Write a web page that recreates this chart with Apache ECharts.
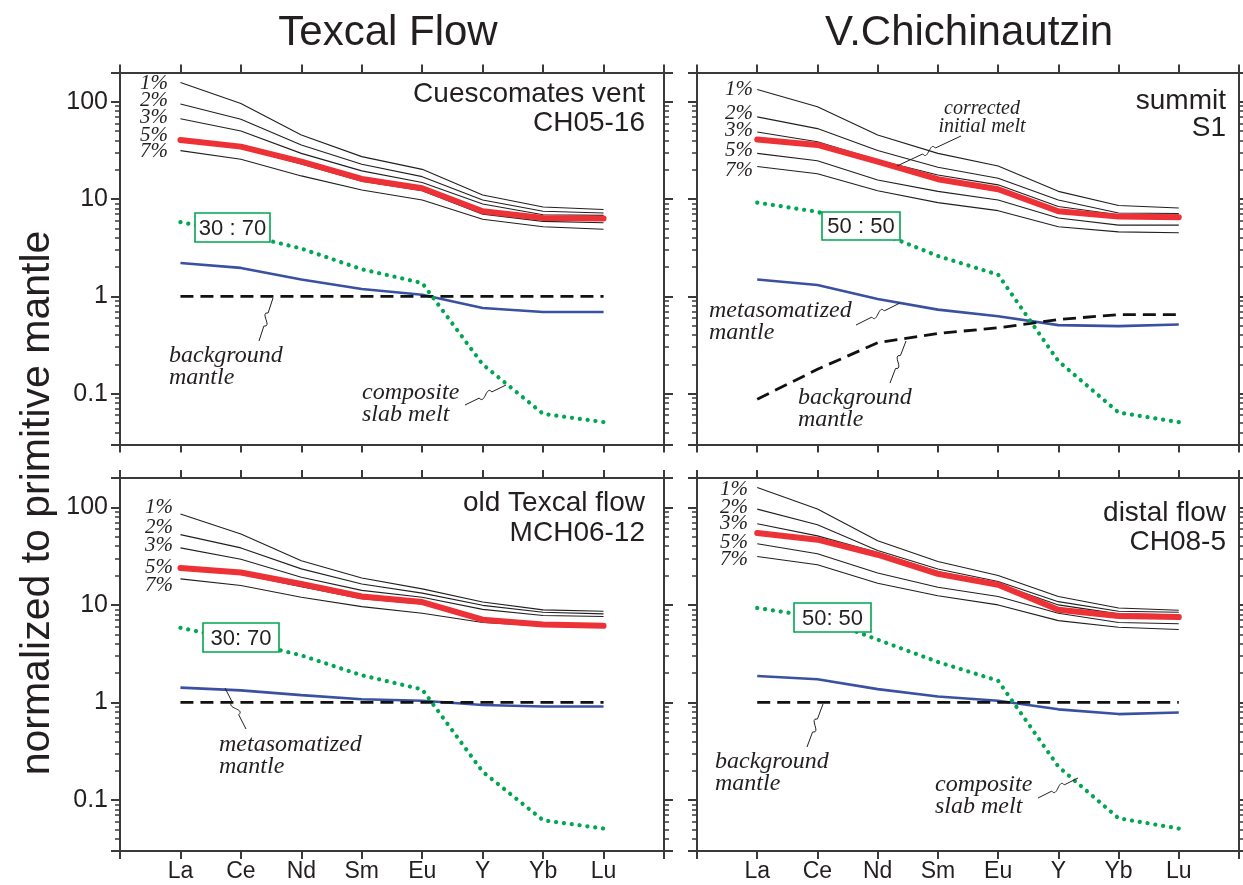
<!DOCTYPE html>
<html>
<head>
<meta charset="utf-8">
<title>Texcal Flow / V.Chichinautzin</title>
<script src="https://cdn.jsdelivr.net/npm/echarts@6.0.0/dist/echarts.min.js"></script>
<style>
  html, body { margin: 0; padding: 0; background: #fff; }
  #chart { width: 1243px; height: 885px; }
</style>
</head>
<body>
<div id="chart"></div>
<script>
  // element order along x
  var elements = ['La', 'Ce', 'Nd', 'Sm', 'Eu', 'Y', 'Yb', 'Lu'];

  // ---- Texcal Flow, Cuescomates vent CH05-16 ----
  var cues_melt1 = [158, 96, 45.5, 27.3, 20.2, 11, 8.3, 7.8];
  var cues_melt2 = [95, 66, 36, 22.8, 17, 9.8, 7.5, 7.2];
  var cues_melt3 = [67, 50, 29.5, 19.5, 14.8, 8.9, 6.9, 6.8];
  var cues_melt5 = [40, 33.5, 23, 15.3, 12.2, 7.0, 5.9, 5.7];
  var cues_melt7 = [31.5, 25.7, 17.3, 12.4, 9.8, 6.2, 5.2, 4.9];
  var cues_sample = [40.5, 34.6, 24.3, 16.1, 12.9, 7.5, 6.4, 6.3];
  var cues_meta = [2.2, 1.96, 1.49, 1.19, 1.04, 0.76, 0.69, 0.69];
  var cues_bg = [1, 1, 1, 1, 1, 1, 1, 1];
  var cues_slab = [5.8, 4.4, 3.1, 1.9, 1.37, 0.2, 0.062, 0.051];

  // ---- V.Chichinautzin, summit S1 ----
  var summ_melt1 = [134, 89, 45.5, 29.5, 21.9, 12, 8.6, 8.1];
  var summ_melt2 = [70, 53, 31.5, 21.2, 16.4, 9.8, 7.2, 7.1];
  var summ_melt3 = [49, 38.9, 25.2, 17.7, 14, 8.4, 6.9, 6.85];
  var summ_melt5 = [29.5, 24.8, 15.7, 12, 9.8, 6.4, 5.4, 5.4];
  var summ_melt7 = [21.6, 18.2, 12.2, 9.2, 7.6, 5.2, 4.6, 4.5];
  var summ_sample = [41, 36, 24.3, 16, 12.6, 7.5, 6.6, 6.5];
  var summ_meta = [1.49, 1.31, 0.94, 0.73, 0.625, 0.506, 0.494, 0.514];
  var summ_bg = [0.0875, 0.178, 0.333, 0.416, 0.475, 0.578, 0.65, 0.65];
  var summ_slab = [9.2, 7.4, 4.6, 2.6, 1.67, 0.216, 0.064, 0.051];

  // ---- Texcal Flow, old Texcal flow MCH06-12 ----
  var old_melt1 = [85.5, 53.4, 28.4, 18.9, 14.6, 10.7, 8.9, 8.6];
  var old_melt2 = [52.5, 38.4, 23.4, 16.4, 13.2, 9.9, 8.4, 8.1];
  var old_melt3 = [38.4, 29.4, 19.2, 14.1, 12, 9, 7.8, 7.6];
  var old_melt5 = [23.5, 20.7, 15.4, 11.6, 10.2, 6.9, 6.3, 6.2];
  var old_melt7 = [18.5, 15.8, 12, 9.6, 8.2, 6.6, 6.1, 6.0];
  var old_sample = [23.9, 21.5, 16.4, 12.2, 10.7, 7.05, 6.3, 6.1];
  var old_meta = [1.42, 1.33, 1.19, 1.08, 1.04, 0.94, 0.91, 0.91];
  var old_bg = [1, 1, 1, 1, 1, 1, 1, 1];
  var old_slab = [5.83, 4.3, 3.04, 1.9, 1.36, 0.195, 0.062, 0.051];

  // ---- V.Chichinautzin, distal flow CH08-5 ----
  var dist_melt1 = [160, 96, 45.5, 27.9, 20, 12.2, 9.3, 8.8];
  var dist_melt2 = [96, 66.4, 36.2, 23.3, 17.4, 10.8, 8.6, 8.4];
  var dist_melt3 = [68, 51, 34.5, 22, 16.5, 10, 8.1, 7.9];
  var dist_melt5 = [42.4, 33.4, 21.2, 15.2, 12.2, 8.2, 6.6, 6.4];
  var dist_melt7 = [31.4, 25.8, 16.7, 12.4, 10, 6.9, 5.9, 5.6];
  var dist_sample = [54.5, 46.6, 32.7, 20.8, 16.1, 8.9, 7.7, 7.5];
  var dist_meta = [1.87, 1.73, 1.37, 1.15, 1.04, 0.85, 0.76, 0.79];
  var dist_bg = [1, 1, 1, 1, 1, 1, 1, 1];
  var dist_slab = [9.3, 7.5, 4.4, 2.6, 1.67, 0.22, 0.065, 0.051];

  // y tick values (log axis)
  var yMin = 0.03, yMax = 200;
  var yLabelTicks = [0.1, 1, 10, 100];
  var yMajorTicks = [0.03, 0.1, 1, 10, 100, 200];
  var yMinorTicks = [0.04, 0.05, 0.06, 0.07, 0.08, 0.09,
    0.2, 0.3, 0.4, 0.5, 0.6, 0.7, 0.8, 0.9,
    2, 3, 4, 5, 6, 7, 8, 9,
    20, 30, 40, 50, 60, 70, 80, 90];

  var SANS = '"Liberation Sans", Arial, Helvetica, sans-serif';
  var SERIF = '"Liberation Serif", "Times New Roman", serif';
  var INK = '#231f20';
  var AXIS = '#3a3a3a';
  var RED = '#ec3237';
  var BLUE = '#3a51a3';
  var GREEN = '#00a651';

  var panels = [
    { rect: { left: 120, top: 72.5, width: 544, height: 372 },
      melts: [cues_melt1, cues_melt2, cues_melt3, cues_melt5, cues_melt7],
      sample: cues_sample, meta: cues_meta, bg: cues_bg, slab: cues_slab,
      xLabels: false, yLabels: true },
    { rect: { left: 697, top: 72.5, width: 542, height: 372 },
      melts: [summ_melt1, summ_melt2, summ_melt3, summ_melt5, summ_melt7],
      sample: summ_sample, meta: summ_meta, bg: summ_bg, slab: summ_slab,
      xLabels: false, yLabels: false },
    { rect: { left: 120, top: 478, width: 544, height: 373 },
      melts: [old_melt1, old_melt2, old_melt3, old_melt5, old_melt7],
      sample: old_sample, meta: old_meta, bg: old_bg, slab: old_slab,
      xLabels: true, yLabels: true },
    { rect: { left: 697, top: 478, width: 542, height: 373 },
      melts: [dist_melt1, dist_melt2, dist_melt3, dist_melt5, dist_melt7],
      sample: dist_sample, meta: dist_meta, bg: dist_bg, slab: dist_slab,
      xLabels: true, yLabels: false }
  ];

  var axisLine = { show: true, onZero: false, lineStyle: { color: AXIS, width: 2 } };
  var tickStyle = { color: AXIS, width: 2 };

  var grids = [], xAxes = [], yAxes = [], series = [];

  function toPoints(vals) {
    return vals.map(function (v, i) { return [i, v]; });
  }

  panels.forEach(function (p, k) {
    // main grid k, minor-tick grid k+4
    grids[k] = Object.assign({ containLabel: false, outerBoundsMode: 'none' }, p.rect);
    grids[k + 4] = Object.assign({ containLabel: false, outerBoundsMode: 'none' }, p.rect);

    xAxes[2 * k] = {
      type: 'value', gridIndex: k, position: 'bottom', min: -1, max: 8, interval: 1,
      axisLine: axisLine,
      axisTick: { show: true, inside: false, length: 8, lineStyle: tickStyle },
      axisLabel: {
        show: p.xLabels, margin: 9, fontSize: 23, fontFamily: SANS, color: INK,
        formatter: function (v) { return elements[v] || ''; }
      },
      splitLine: { show: false }
    };
    xAxes[2 * k + 1] = {
      type: 'value', gridIndex: k, position: 'top', min: -1, max: 8, interval: 1,
      axisLine: axisLine,
      axisTick: { show: true, inside: false, length: 8, lineStyle: tickStyle },
      axisLabel: { show: false },
      splitLine: { show: false }
    };
    xAxes[8 + k] = {
      type: 'value', gridIndex: k + 4, min: -1, max: 8, interval: 1, show: false
    };

    yAxes[2 * k] = {
      type: 'log', logBase: 10, gridIndex: k, position: 'left', min: yMin, max: yMax,
      axisLine: axisLine,
      axisTick: { show: true, inside: false, length: 9, customValues: yMajorTicks, lineStyle: tickStyle },
      axisLabel: {
        show: p.yLabels, customValues: yLabelTicks, margin: 12,
        fontSize: 25, fontFamily: SANS, color: INK,
        formatter: function (v) { return String(+Number(v).toPrecision(3)); }
      },
      splitLine: { show: false }
    };
    yAxes[2 * k + 1] = {
      type: 'log', logBase: 10, gridIndex: k, position: 'right', min: yMin, max: yMax,
      axisLine: axisLine,
      axisTick: { show: true, inside: false, length: 9, customValues: yMajorTicks, lineStyle: tickStyle },
      axisLabel: { show: false },
      splitLine: { show: false }
    };
    yAxes[8 + 2 * k] = {
      type: 'log', logBase: 10, gridIndex: k + 4, position: 'left', min: yMin, max: yMax,
      axisLine: { show: false, onZero: false },
      axisTick: { show: true, inside: false, length: 5, customValues: yMinorTicks, lineStyle: { color: AXIS, width: 1.5 } },
      axisLabel: { show: false },
      splitLine: { show: false }
    };
    yAxes[8 + 2 * k + 1] = {
      type: 'log', logBase: 10, gridIndex: k + 4, position: 'right', min: yMin, max: yMax,
      axisLine: { show: false, onZero: false },
      axisTick: { show: true, inside: false, length: 5, customValues: yMinorTicks, lineStyle: { color: AXIS, width: 1.5 } },
      axisLabel: { show: false },
      splitLine: { show: false }
    };

    function add(vals, lineStyle, z) {
      series.push({
        type: 'line', xAxisIndex: 2 * k, yAxisIndex: 2 * k,
        data: toPoints(vals), symbol: 'none', silent: true, z: z,
        lineStyle: lineStyle
      });
    }
    p.melts.forEach(function (m) {
      add(m, { color: INK, width: 1.1 }, 2);
    });
    add(p.sample, { color: RED, width: 6, cap: 'round', join: 'round' }, 3);
    add(p.meta, { color: BLUE, width: 2.6 }, 4);
    add(p.bg, { color: '#111', width: 2.8, type: [13, 7] }, 5);
    add(p.slab, { color: GREEN, width: 4.2, type: [0.1, 7.8], cap: 'round' }, 6);
  });

  // ---------- annotations ----------
  var graphics = [];

  function text(x, y, str, font, align, extra) {
    var el = {
      type: 'text', x: x, y: y, z: 110,
      style: Object.assign({ text: str, font: font, fill: INK, align: align || 'left', verticalAlign: 'middle' }, extra || {})
    };
    graphics.push(el);
    return el;
  }

  // column titles and y title
  text(388, 33, 'Texcal Flow', '42px ' + SANS, 'center');
  text(969, 33, 'V.Chichinautzin', '42px ' + SANS, 'center');
  graphics.push({
    type: 'text', x: 38, y: 503, rotation: Math.PI / 2, z: 110,
    style: { text: 'normalized to primitive mantle', font: '41px ' + SANS, fill: INK, align: 'center', verticalAlign: 'middle' }
  });

  // sample names
  text(645, 94, 'Cuescomates vent', '28px ' + SANS, 'right');
  text(645, 123, 'CH05-16', '28px ' + SANS, 'right');
  text(1226, 101, 'summit', '28px ' + SANS, 'right');
  text(1226, 128, 'S1', '28px ' + SANS, 'right');
  text(645, 503, 'old Texcal flow', '28px ' + SANS, 'right');
  text(645, 533, 'MCH06-12', '28px ' + SANS, 'right');
  text(1226, 513, 'distal flow', '28px ' + SANS, 'right');
  text(1226, 542, 'CH08-5', '28px ' + SANS, 'right');

  // melt-fraction labels
  var pctNames = ['1%', '2%', '3%', '5%', '7%'];
  var pctSets = [
    { x: 168, ys: [83, 100, 117, 135, 151] },
    { x: 753, ys: [89, 113, 130, 150, 170] },
    { x: 173, ys: [507, 527, 545, 567, 585] },
    { x: 748, ys: [489, 507, 523, 542, 559] }
  ];
  pctSets.forEach(function (s) {
    s.ys.forEach(function (y, i) {
      text(s.x, y, pctNames[i], 'italic 21px ' + SERIF, 'right');
    });
  });

  // mixing ratio boxes
  var boxes = [
    { x: 195, y: 213, w: 75, h: 29, t: '30 : 70' },
    { x: 822, y: 212, w: 78, h: 28, t: '50 : 50' },
    { x: 203, y: 623, w: 76, h: 29, t: '30: 70' },
    { x: 794, y: 603, w: 77, h: 29, t: '50: 50' }
  ];
  boxes.forEach(function (b) {
    graphics.push({
      type: 'rect', z: 100,
      shape: { x: b.x, y: b.y, width: b.w, height: b.h },
      style: { fill: '#fff', stroke: GREEN, lineWidth: 1.6 }
    });
    text(b.x + b.w / 2, b.y + b.h / 2 + 1, b.t, '22px ' + SANS, 'center');
  });

  // italic notes
  var notes = [
    { x: 169, y: 345, t: 'background\nmantle' },
    { x: 362, y: 382, t: 'composite\nslab melt' },
    { x: 709, y: 300, t: 'metasomatized\nmantle' },
    { x: 798, y: 387, t: 'background\nmantle' },
    { x: 219, y: 734, t: 'metasomatized\nmantle' },
    { x: 715, y: 751, t: 'background\nmantle' },
    { x: 935, y: 774, t: 'composite\nslab melt' }
  ];
  notes.forEach(function (n) {
    graphics.push({
      type: 'text', x: n.x, y: n.y, z: 110,
      style: { text: n.t, font: 'italic 24px ' + SERIF, fill: INK, align: 'left', verticalAlign: 'top', lineHeight: 22 }
    });
  });
  graphics.push({
    type: 'text', x: 982, y: 100, z: 110,
    style: { text: 'corrected\ninitial melt', font: 'italic 20px ' + SERIF, fill: INK, align: 'center', verticalAlign: 'top', lineHeight: 18 }
  });

  // leader lines with an S-shaped break in the middle
  function leader(x0, y0, x1, y1) {
    var dx = x1 - x0, dy = y1 - y0;
    var len = Math.sqrt(dx * dx + dy * dy);
    var ux = dx / len, uy = dy / len;
    var px = -uy * 9, py = ux * 9;
    var mx = x0 + dx * 0.5, my = y0 + dy * 0.5;
    var ax = mx - ux * 7, ay = my - uy * 7;
    var bx = mx + ux * 7, by = my + uy * 7;
    var st = { stroke: INK, lineWidth: 1, fill: null };
    graphics.push({ type: 'line', z: 90, shape: { x1: x0, y1: y0, x2: ax, y2: ay }, style: st });
    graphics.push({
      type: 'bezierCurve', z: 90,
      shape: {
        x1: ax, y1: ay, x2: bx, y2: by,
        cpx1: ax + ux * 2 + px, cpy1: ay + uy * 2 + py,
        cpx2: bx - ux * 2 - px, cpy2: by - uy * 2 - py
      },
      style: st
    });
    graphics.push({ type: 'line', z: 90, shape: { x1: bx, y1: by, x2: x1, y2: y1 }, style: st });
  }
  leader(259, 341, 273, 298);
  leader(465, 405, 506, 385);
  leader(961, 136, 897, 166);
  leader(856, 325, 900, 303);
  leader(890, 383, 906, 341);
  leader(246, 729, 225, 688);
  leader(807, 747, 823, 704);
  leader(1038, 798, 1078, 778);

  var chart = echarts.init(document.getElementById('chart'), null, { renderer: 'canvas' });
  chart.setOption({
    backgroundColor: '#fff',
    animation: false,
    grid: grids,
    xAxis: xAxes,
    yAxis: yAxes,
    series: series,
    graphic: graphics
  });
</script>
</body>
</html>
